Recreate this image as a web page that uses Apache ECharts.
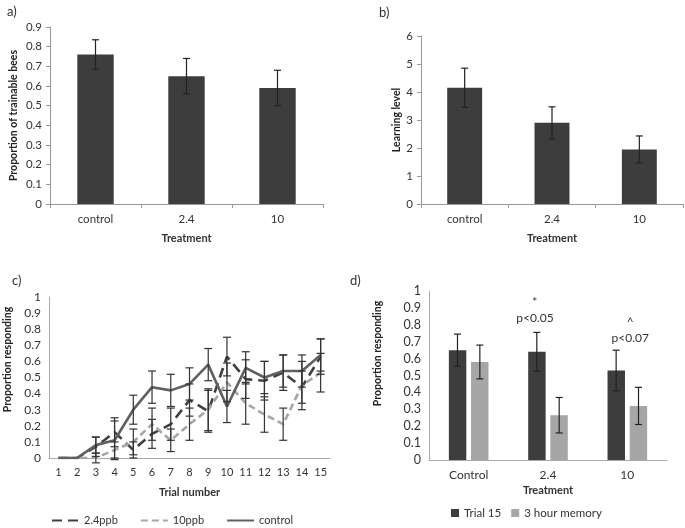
<!DOCTYPE html>
<html>
<head>
<meta charset="utf-8">
<script src="https://cdn.jsdelivr.net/npm/echarts@6/dist/echarts.min.js"></script>
<style>
  html, body { margin: 0; padding: 0; background: #fff; }
  #chart { width: 685px; height: 528px; }
</style>
</head>
<body>
<div id="chart"></div>
<script>
// panel a / b
const treatments = ['control', '2.4', '10'];
const trainable = [0.76, 0.65, 0.59];
const trainableErr = [0.075, 0.09, 0.09];
const learning = [4.15, 2.9, 1.95];
const learningErr = [0.7, 0.57, 0.48];

// panel c
const trials = ['1', '2', '3', '4', '5', '6', '7', '8', '9', '10', '11', '12', '13', '14', '15'];
const resp24 = [0, 0, 0.07, 0.16, 0.05, 0.15, 0.21, 0.36, 0.29, 0.63, 0.49, 0.48, 0.53, 0.44, 0.63];
const resp24Err = [0, 0, 0.06, 0.09, 0.05, 0.09, 0.1, 0.1, 0.13, 0.12, 0.12, 0.12, 0.11, 0.1, 0.11];
const resp10 = [0, 0, 0, 0.05, 0.1, 0.21, 0.11, 0.21, 0.3, 0.47, 0.34, 0.27, 0.21, 0.45, 0.53];
const resp10Err = [0, 0, 0.03, 0.05, 0.08, 0.1, 0.07, 0.1, 0.13, 0.12, 0.13, 0.11, 0.1, 0.15, 0.12];
const respCtrl = [0, 0, 0.08, 0.11, 0.3, 0.44, 0.42, 0.46, 0.58, 0.32, 0.56, 0.5, 0.54, 0.54, 0.64];
const respCtrlErr = [0, 0, 0.05, 0.12, 0.09, 0.1, 0.1, 0.1, 0.1, 0.1, 0.1, 0.1, 0.1, 0.1, 0.1];

// panel d
const groups = ['Control', '2.4', '10'];
const trial15 = [0.65, 0.64, 0.53];
const trial15Err = [0.095, 0.115, 0.12];
const memory3h = [0.58, 0.265, 0.32];
const memory3hErr = [0.1, 0.105, 0.11];

const DARK = '#3d3d3d';
const LIGHT = '#a6a6a6';
const TXT = '#333';
const FONT = 'Lato';

function errorBars(axisIdx, vals, errs, offsetFrac, color, capHalf) {
    return {
        type: 'custom',
        xAxisIndex: axisIdx,
        yAxisIndex: axisIdx,
        z: 10,
        silent: true,
        encode: { x: 0, y: [1, 2] },
        data: vals.map((v, i) => [i, v - errs[i], v + errs[i]]),
        renderItem: function (params, api) {
            if (api.value(1) === api.value(2)) return;
            const lo = api.coord([api.value(0), api.value(1)]);
            const hi = api.coord([api.value(0), api.value(2)]);
            const x = lo[0] + api.size([1, 0])[0] * offsetFrac;
            const st = { stroke: color, lineWidth: 1.2 };
            return {
                type: 'group',
                children: [
                    { type: 'line', shape: { x1: x, y1: lo[1], x2: x, y2: hi[1] }, style: st },
                    { type: 'line', shape: { x1: x - capHalf, y1: lo[1], x2: x + capHalf, y2: lo[1] }, style: st },
                    { type: 'line', shape: { x1: x - capHalf, y1: hi[1], x2: x + capHalf, y2: hi[1] }, style: st }
                ]
            };
        }
    };
}

function catAxis(gridIndex, data, name, nameGap, ticks, fontSize) {
    return {
        type: 'category',
        gridIndex: gridIndex,
        data: data,
        name: name,
        nameLocation: 'middle',
        nameGap: nameGap,
        nameTextStyle: { fontWeight: 'bold', fontSize: 11, color: TXT, fontFamily: FONT },
        axisLine: { lineStyle: { color: '#999', width: 1 } },
        axisTick: { show: ticks, length: 4, lineStyle: { color: '#999' } },
        axisLabel: { color: TXT, fontSize: fontSize, margin: 9, fontFamily: FONT }
    };
}

function valAxis(gridIndex, max, interval, name, nameGap, ticks, shiftUp, fontSize) {
    return {
        type: 'value',
        gridIndex: gridIndex,
        min: 0,
        max: max,
        interval: interval,
        name: name,
        nameLocation: 'middle',
        nameGap: nameGap,
        nameTextStyle: { fontWeight: 'bold', fontSize: 10.5, color: '#222', fontFamily: FONT, padding: [0, 0, 0, shiftUp * 2] },
        splitLine: { show: false },
        axisLine: { show: true, lineStyle: { color: '#999', width: 1 } },
        axisTick: { show: ticks, length: 4, lineStyle: { color: '#999' } },
        axisLabel: { color: TXT, fontSize: fontSize, margin: 8, fontFamily: FONT }
    };
}

const chart = echarts.init(document.getElementById('chart'));

chart.setOption({
    animation: false,
    backgroundColor: '#fff',
    textStyle: { fontFamily: FONT },
    title: [
        { text: 'a)', left: 2, top: 0, textStyle: { fontSize: 13, fontWeight: 'normal', color: TXT, fontFamily: FONT } },
        { text: 'b)', left: 374, top: 1, textStyle: { fontSize: 13, fontWeight: 'normal', color: TXT, fontFamily: FONT } },
        { text: 'c)', left: 7, top: 269, textStyle: { fontSize: 13, fontWeight: 'normal', color: TXT, fontFamily: FONT } },
        { text: 'd)', left: 345, top: 269, textStyle: { fontSize: 13, fontWeight: 'normal', color: TXT, fontFamily: FONT } }
    ],
    grid: [
        { left: 50, top: 27, width: 273, height: 177, outerBoundsMode: 'none' },
        { left: 421, top: 36, width: 262, height: 168, outerBoundsMode: 'none' },
        { left: 49, top: 297, width: 281, height: 161, outerBoundsMode: 'none' },
        { left: 429, top: 291, width: 238, height: 169, outerBoundsMode: 'none' }
    ],
    legend: [
        {
            data: ['2.4ppb', '10ppb', 'control'],
            left: 46, top: 510,
            itemWidth: 27, itemHeight: 10, itemGap: 22,
            itemStyle: { opacity: 0 },
            textStyle: { fontSize: 11, color: TXT, fontFamily: FONT }
        },
        {
            data: ['Trial 15', '3 hour memory'],
            left: 446, top: 502,
            icon: 'rect', itemWidth: 8, itemHeight: 8, itemGap: 10,
            textStyle: { fontSize: 11.5, color: TXT, fontFamily: FONT }
        }
    ],
    xAxis: [
        catAxis(0, treatments, 'Treatment', 29, true, 11.5),
        catAxis(1, treatments, 'Treatment', 29, true, 11.5),
        Object.assign(catAxis(2, trials, 'Trial number', 29, false, 11), { axisLine: { lineStyle: { color: '#aaa' } } }),
        Object.assign(catAxis(3, groups, 'Treatment', 25, false, 12), { axisLine: { lineStyle: { color: '#aaa' } } })
    ],
    yAxis: [
        valAxis(0, 0.9, 0.1, 'Proportion of trainable bees', 31, true, 0, 11.5),
        valAxis(1, 6, 1, 'Learning level', 18, true, 0, 11.5),
        Object.assign(valAxis(2, 1, 0.1, 'Proportion responding', 36, false, 18, 12),
            { axisLine: { show: true, lineStyle: { color: '#aaa' } } }),
        Object.assign(valAxis(3, 1, 0.1, 'Proportion responding', 46, false, 22, 12.5),
            { axisLine: { show: true, lineStyle: { color: '#aaa' } } })
    ],
    series: [
        { type: 'bar', xAxisIndex: 0, yAxisIndex: 0, data: trainable, barWidth: '40%', itemStyle: { color: DARK } },
        errorBars(0, trainable, trainableErr, 0, '#222', 3.5),

        { type: 'bar', xAxisIndex: 1, yAxisIndex: 1, data: learning, barWidth: '40%', itemStyle: { color: DARK } },
        errorBars(1, learning, learningErr, 0, '#222', 3.5),

        {
            name: '2.4ppb', type: 'line', xAxisIndex: 2, yAxisIndex: 2, data: resp24,
            symbol: 'none', lineStyle: { color: '#404040', width: 2.6, type: [10, 6] }, itemStyle: { color: '#404040' }
        },
        {
            name: '10ppb', type: 'line', xAxisIndex: 2, yAxisIndex: 2, data: resp10,
            symbol: 'none', lineStyle: { color: LIGHT, width: 2.6, type: [7, 4] }, itemStyle: { color: LIGHT }
        },
        {
            name: 'control', type: 'line', xAxisIndex: 2, yAxisIndex: 2, data: respCtrl,
            symbol: 'none', lineStyle: { color: '#606060', width: 2.6 }, itemStyle: { color: '#606060' }
        },
        errorBars(2, resp24, resp24Err, 0, '#333', 4),
        errorBars(2, resp10, resp10Err, 0, '#333', 4),
        errorBars(2, respCtrl, respCtrlErr, 0, '#333', 4),

        {
            name: 'Trial 15', type: 'bar', xAxisIndex: 3, yAxisIndex: 3, data: trial15,
            barWidth: '22%', barGap: '27%', itemStyle: { color: DARK },
            markPoint: {
                symbol: 'rect', symbolSize: 1, itemStyle: { color: 'transparent' },
                label: { show: true, position: 'inside', color: TXT, fontSize: 12, lineHeight: 16, fontFamily: FONT },
                data: [
                    { coord: [groups[1], 0.886], label: { formatter: '*\np<0.05', offset: [-2, 0] } },
                    { coord: [groups[2], 0.768], label: { formatter: '^\np<0.07', offset: [14, 0] } }
                ]
            }
        },
        {
            name: '3 hour memory', type: 'bar', xAxisIndex: 3, yAxisIndex: 3, data: memory3h,
            barWidth: '22%', barGap: '27%', itemStyle: { color: LIGHT }
        },
        errorBars(3, trial15, trial15Err, -0.141, '#222', 3.5),
        errorBars(3, memory3h, memory3hErr, 0.141, '#222', 3.5)
    ]
});
</script>
</body>
</html>
